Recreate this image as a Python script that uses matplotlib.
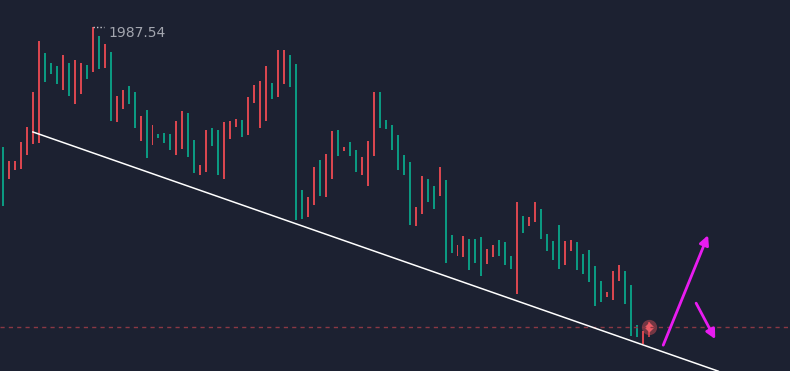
import numpy as np
import matplotlib.pyplot as plt

# candle opens / closes (teal when close > open, red otherwise)
opens = [1942.8, 1954.0, 1954.0, 1958.8, 1962.5, 1971.3, 1984.0, 1973.8, 1975.8, 1973.3,
         1980.5, 1970.3, 1979.3, 1978.5, 1974.5, 1987.5, 1977.0, 1983.3, 1964.0, 1970.3,
         1971.8, 1968.3, 1962.3, 1965.3, 1954.8, 1963.0, 1959.8, 1958.5, 1956.8, 1964.0,
         1966.5, 1955.0, 1951.0, 1953.0, 1961.8, 1957.8, 1950.5, 1963.8, 1964.0, 1964.5,
         1960.0, 1970.0, 1973.0, 1974.0, 1977.8, 1969.5, 1981.8, 1981.8, 1972.5, 1939.3,
         1939.5, 1945.0, 1952.5, 1945.3, 1955.8, 1961.5, 1955.3, 1957.5, 1955.3, 1951.3,
         1955.0, 1959.0, 1971.3, 1962.3, 1962.0, 1956.8, 1951.8, 1950.5, 1938.0, 1942.5,
         1950.3, 1943.8, 1942.0, 1952.5, 1928.5, 1931.0, 1933.0, 1935.3, 1926.8, 1928.5,
         1925.3, 1932.0, 1933.0, 1930.3, 1928.0, 1927.0, 1943.8, 1936.0, 1940.0, 1943.8,
         1934.5, 1931.5, 1929.3, 1927.0, 1934.0, 1934.3, 1926.8, 1925.8, 1923.8, 1917.8,
         1918.8, 1921.3, 1926.5, 1928.0, 1918.3, 1910.3, 1910.0, 1911.5]
closes = [1957.5, 1949.5, 1951.8, 1952.0, 1955.5, 1958.3, 1958.5, 1981.0, 1978.5, 1977.8,
          1971.8, 1978.5, 1968.3, 1970.8, 1978.0, 1976.3, 1985.3, 1977.3, 1981.3, 1963.8,
          1967.0, 1972.8, 1971.3, 1959.0, 1966.8, 1958.0, 1960.8, 1961.0, 1960.8, 1955.5,
          1957.0, 1966.0, 1959.3, 1950.5, 1951.3, 1962.3, 1961.8, 1949.5, 1959.5, 1962.5,
          1964.3, 1960.5, 1968.5, 1962.3, 1964.0, 1973.5, 1970.0, 1973.3, 1980.5, 1978.3,
          1946.8, 1940.0, 1943.0, 1954.3, 1945.0, 1949.5, 1961.8, 1956.5, 1958.8, 1956.8,
          1950.5, 1947.8, 1955.3, 1971.3, 1964.3, 1963.0, 1960.5, 1955.5, 1953.8, 1937.8,
          1940.8, 1949.5, 1947.8, 1945.3, 1949.3, 1935.5, 1930.3, 1930.0, 1934.5, 1934.5,
          1935.0, 1928.3, 1930.0, 1934.3, 1933.8, 1930.3, 1920.8, 1940.3, 1937.8, 1938.8,
          1942.0, 1935.8, 1934.0, 1938.0, 1928.0, 1931.5, 1933.8, 1930.8, 1931.8, 1927.8,
          1924.0, 1920.0, 1919.3, 1924.0, 1926.5, 1923.0, 1913.0, 1908.3]

# current (unfinished) candle
last_high = 1913.8
last_low = 1910.0
last_price = 1912.5
high_label = 1987.54

# trend line and the two drawn arrows
trend_x = [5.0, 119.6]
trend_y = [1961.3, 1901.5]
arrow_up = [(110.4, 1908.0), (117.9, 1935.5)]
arrow_down = [(115.9, 1918.5), (119.1, 1909.5)]

BG = '#1c2131'
RED = '#d9464f'
TEAL = '#0b9981'
MAGENTA = '#e81cf0'


def main():
    o = np.array(opens)
    c = np.array(closes)
    idx = np.arange(len(o))
    colors = [TEAL if cc > oo else RED for oo, cc in zip(o, c)]

    fig = plt.figure(figsize=(7.9, 3.71), dpi=100, facecolor=BG)
    ax = fig.add_axes([0, 0, 1, 1], facecolor=BG)

    ax.bar(idx, np.abs(c - o), bottom=np.minimum(o, c), width=0.33, color=colors, linewidth=0)

    # last candle with price marker
    n = len(o)
    ax.vlines(n, last_low, last_high, color=RED, lw=1.2)
    ax.plot(n, last_price, marker='o', ms=11, color='#e0505a', alpha=0.45, mec='none')
    ax.plot(n, last_price, marker='D', ms=5.5, color='#ec5c66', mec='none')

    # current price line
    ax.axhline(last_price, color='#8a3844', lw=1, ls=(0, (3, 3)))

    # high label
    ax.plot([15.0, 16.9], [high_label, high_label], color='#c8cad0', lw=1, ls=(0, (1, 1.5)))
    ax.text(17.7, high_label + 0.2, f'{high_label:.2f}', color='#a3a6af', fontsize=10,
            ha='left', va='top')

    ax.plot(trend_x, trend_y, color='white', lw=1.1)

    for (x0, y0), (x1, y1) in (arrow_up, arrow_down):
        ax.annotate('', xy=(x1, y1), xytext=(x0, y0),
                    arrowprops=dict(arrowstyle='-|>', color=MAGENTA, lw=2, mutation_scale=14,
                                    shrinkA=0, shrinkB=0))

    ax.set_xlim(-0.5, 131.6)
    ax.set_ylim(1901.54, 1994.29)
    ax.axis('off')

    plt.savefig('out.png', dpi=100, facecolor=BG)
    plt.close()


if __name__ == '__main__':
    main()
